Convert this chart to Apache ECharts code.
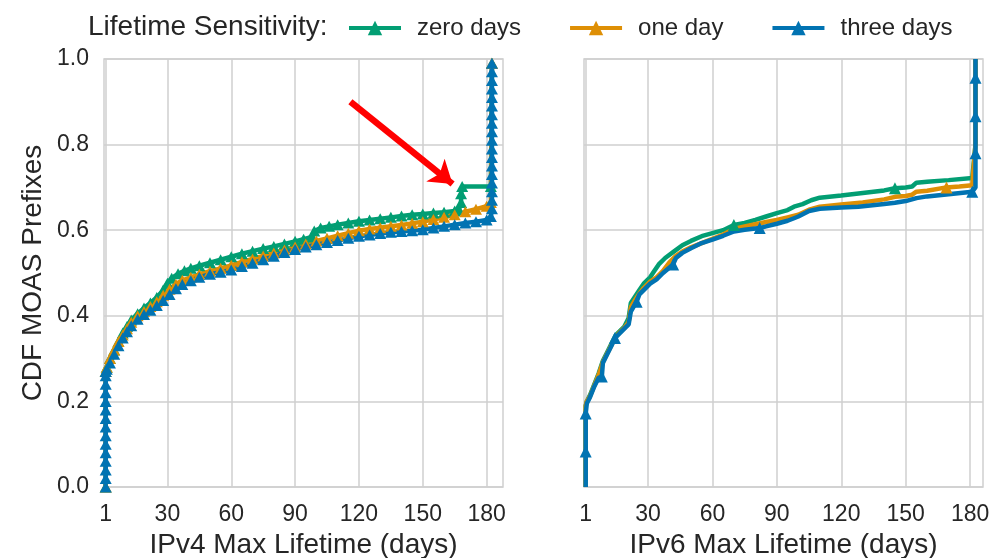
<!DOCTYPE html>
<html><head><meta charset="utf-8">
<script src="https://cdn.jsdelivr.net/npm/echarts@6/dist/echarts.min.js"></script>
<style>html,body{margin:0;padding:0;background:#fff}#c{width:1003px;height:558px}</style>
</head><body><div id="c"></div>
<script>
// ---------- data ----------
var seriesNames = ['zero days', 'one day', 'three days'];
var xTicks = [1, 30, 60, 90, 120, 150, 180];
var yTicks = [0, 0.2, 0.4, 0.6, 0.8, 1.0];
var xTitles = ['IPv4 Max Lifetime (days)', 'IPv6 Max Lifetime (days)'];
var yTitle = 'CDF MOAS Prefixes';
var legendTitle = 'Lifetime Sensitivity:';

// IPv4 (left)
var v4Zero = [[1,0],[1,0.27],
 [1.5,0.28],[3,0.3],[5,0.32],[7,0.34],[9,0.36],[11,0.375],[13,0.39],[16,0.405],[19,0.418],[22,0.43],[25,0.443],[28,0.46],[30,0.476],[32,0.488],[35,0.498],[38,0.505],[41,0.511],[45,0.517],[50,0.524],[55,0.531],[60,0.538],[65,0.545],[70,0.551],[75,0.557],[80,0.562],[85,0.568],[90,0.574],[94,0.579],[98,0.584],[99,0.598],[102,0.605],[106,0.609],[110,0.613],[115,0.617],[120,0.621],[125,0.624],[130,0.627],[135,0.63],[140,0.633],[145,0.636],[150,0.638],[155,0.64],[160,0.642],[165,0.645],[167,0.648],[168,0.665],[168,0.685],[168.5,0.702],[182,0.702],[182.5,0.99]];
var v4One = [[1,0],[1,0.27],
 [1.5,0.28],[3,0.3],[5,0.32],[7,0.34],[9,0.355],[11,0.37],[13,0.385],[16,0.4],[19,0.41],[22,0.422],[25,0.433],[28,0.448],[31,0.462],[34,0.474],[37,0.483],[41,0.49],[45,0.497],[50,0.504],[55,0.511],[60,0.518],[65,0.526],[70,0.533],[75,0.54],[80,0.547],[85,0.554],[90,0.561],[95,0.568],[100,0.575],[105,0.581],[110,0.587],[115,0.593],[120,0.599],[125,0.603],[130,0.606],[135,0.609],[140,0.612],[145,0.616],[150,0.62],[155,0.625],[160,0.63],[165,0.636],[170,0.643],[175,0.649],[180,0.656],[182,0.665],[182.5,0.99]];
var v4Three = [[1,0],[1,0.02],[1,0.04],[1,0.06],[1,0.08],[1,0.1],[1,0.12],[1,0.14],[1,0.16],[1,0.18],[1,0.2],[1,0.22],[1,0.24],[1,0.26],[1,0.27],
 [1.5,0.275],[3,0.29],[5,0.31],[7,0.33],[9,0.348],[11,0.363],[13,0.377],[16,0.392],[19,0.403],[22,0.413],[25,0.424],[28,0.436],[31,0.45],[34,0.463],[37,0.473],[41,0.482],[45,0.49],[50,0.497],[55,0.502],[60,0.507],[65,0.515],[70,0.523],[75,0.531],[80,0.539],[85,0.548],[90,0.555],[95,0.561],[100,0.566],[105,0.571],[110,0.576],[115,0.581],[120,0.586],[125,0.589],[130,0.592],[135,0.595],[140,0.597],[145,0.599],[150,0.601],[155,0.605],[160,0.609],[165,0.613],[170,0.617],[175,0.62],[180,0.624],[182,0.632],
 [182.5,0.65],[182.5,0.67],[182.5,0.69],[182.5,0.71],[182.5,0.73],[182.5,0.75],[182.5,0.77],[182.5,0.79],[182.5,0.81],[182.5,0.83],[182.5,0.85],[182.5,0.87],[182.5,0.89],[182.5,0.91],[182.5,0.93],[182.5,0.95],[182.5,0.97],[182.5,0.99]];

// IPv6 (right)
var v6Zero = [[1,0],[1,0.1],[1,0.19],[1.5,0.2],[3,0.215],[5,0.24],[7,0.265],[9,0.295],[11,0.315],[13,0.335],[15,0.355],[17,0.365],[19,0.375],[21,0.395],[22,0.43],[24,0.445],[26,0.46],[28,0.475],[31,0.49],[33,0.505],[35,0.52],[38,0.535],[42,0.55],[46,0.565],[50,0.575],[55,0.586],[60,0.593],[65,0.6],[70,0.612],[75,0.617],[80,0.624],[85,0.632],[90,0.64],[95,0.647],[98,0.655],[102,0.661],[106,0.67],[110,0.676],[120,0.681],[130,0.687],[140,0.693],[145,0.698],[150,0.7],[153,0.702],[155,0.711],[160,0.713],[170,0.717],[181,0.722],[182.5,0.8],[182.5,1]];
var v6One = [[1,0],[1,0.1],[1,0.19],[1.5,0.2],[3,0.212],[5,0.237],[7,0.262],[9,0.292],[11,0.312],[13,0.332],[15,0.352],[17,0.362],[19,0.372],[21,0.385],[22,0.42],[24,0.437],[26,0.452],[28,0.465],[31,0.48],[34,0.49],[37,0.505],[40,0.525],[43,0.54],[46,0.55],[50,0.56],[55,0.57],[60,0.58],[65,0.59],[70,0.603],[75,0.609],[80,0.614],[85,0.619],[90,0.624],[95,0.63],[100,0.636],[105,0.648],[110,0.655],[120,0.66],[130,0.665],[140,0.672],[145,0.678],[150,0.68],[153,0.683],[155,0.69],[160,0.692],[169,0.7],[175,0.702],[181,0.705],[182.5,0.8],[182.5,1]];
var v6Three = [[1,0],[1,0.083],[1,0.172],[1.5,0.195],[3,0.21],[5,0.235],[7,0.255],[8.5,0.258],[9,0.29],[11,0.31],[13,0.33],[14.6,0.348],[17,0.36],[19,0.37],[21,0.38],[22,0.41],[24.7,0.433],[26,0.45],[28,0.46],[31,0.475],[34,0.485],[37,0.5],[41.7,0.52],[43,0.535],[46,0.547],[50,0.558],[55,0.57],[60,0.578],[65,0.587],[70,0.597],[75,0.601],[82,0.605],[85,0.609],[90,0.615],[95,0.622],[98,0.628],[100,0.632],[105,0.645],[110,0.65],[120,0.653],[128,0.655],[140,0.661],[145,0.664],[150,0.668],[155,0.675],[160,0.679],[170,0.684],[181,0.69],[182.5,0.7],[182.5,0.78],[182.5,0.866],[182.5,0.956],[182.5,1]];
// points of the IPv6 curves that carry a marker
var v6ZeroMarks = [[70,0.612],[145,0.698]];
var v6OneMarks = [[169,0.7]];
var v6ThreeMarks = [[1,0.083],[1,0.172],[8.5,0.258],[14.6,0.348],[24.7,0.433],[41.7,0.52],[82,0.605],[181,0.69],[182.5,0.78],[182.5,0.866],[182.5,0.956]];

// annotation arrow (data coordinates of IPv4 panel)
var arrowStart = [116, 0.9];
var arrowEnd = [164, 0.708];

// ---------- chart ----------
var colors = ['#029e73', '#de8f05', '#0173b2'];
var FONT = 'Liberation Sans, Arial, sans-serif';
var TXT = '#262626';
var GRIDC = '#cfcfcf';

function build(pts, marks) {
  return pts.map(function (p) {
    var m = !marks || marks.some(function (q) { return q[0] === p[0] && q[1] === p[1]; });
    return { value: p, symbol: m ? 'triangle' : 'none' };
  });
}

function xAxisOf(gi, max) {
  return {
    type: 'value', gridIndex: gi, min: 0.2, max: max,
    name: xTitles[gi], nameLocation: 'middle', nameGap: 42,
    nameTextStyle: { fontFamily: FONT, fontSize: 28, color: TXT },
    axisLine: { show: false },
    axisTick: { show: false, customValues: xTicks },
    axisLabel: { customValues: xTicks, fontFamily: FONT, fontSize: 23, color: TXT, margin: 16 },
    splitLine: { show: true, lineStyle: { color: GRIDC, width: 1.5 } }
  };
}
function yAxisOf(gi) {
  return {
    type: 'value', gridIndex: gi, min: 0, max: 1, interval: 0.2,
    name: gi === 0 ? yTitle : '', nameLocation: 'middle', nameGap: 57,
    nameTextStyle: { fontFamily: FONT, fontSize: 28, color: TXT },
    axisLine: { show: false }, axisTick: { show: false },
    axisLabel: { show: gi === 0, fontFamily: FONT, fontSize: 23, color: TXT, margin: 15,
      padding: [10, 0, 0, 0],
      formatter: function (v) { return v.toFixed(1); } },
    splitLine: { show: true, lineStyle: { color: GRIDC, width: 1.5 } }
  };
}

var dataSets = [[v4Zero, v4One, v4Three], [v6Zero, v6One, v6Three]];
var markSets = [[null, null, null], [v6ZeroMarks, v6OneMarks, v6ThreeMarks]];
var series = [];
for (var g = 0; g < 2; g++) {
  for (var s = 0; s < 3; s++) {
    series.push({
      type: 'line', name: seriesNames[s], xAxisIndex: g, yAxisIndex: g,
      data: build(dataSets[g][s], markSets[g][s]),
      symbol: 'triangle', symbolSize: g === 0 ? [12, 11] : [12, 12], showAllSymbol: true,
      lineStyle: { color: colors[s], width: 4.5 },
      itemStyle: { color: colors[s] },
      animation: false, silent: true
    });
  }
}
series.push({
  type: 'lines', coordinateSystem: 'cartesian2d', xAxisIndex: 0, yAxisIndex: 0,
  data: [{ coords: [arrowStart, arrowEnd] }],
  symbol: ['none', 'arrow'], symbolSize: [0, 22],
  lineStyle: { color: '#ff0000', width: 6.5, opacity: 1 },
  z: 10, animation: false, silent: true
});

var chart = echarts.init(document.getElementById('c'));
chart.setOption({
  animation: false,
  backgroundColor: '#ffffff',
  title: { text: legendTitle, left: 83, top: 8,
    textStyle: { fontFamily: FONT, fontSize: 28, fontWeight: 'normal', color: TXT } },
  legend: {
    data: seriesNames, left: 342, top: 11, itemWidth: 52, itemHeight: 18, itemGap: 47,
    lineStyle: { width: 4 },
    textStyle: { fontFamily: FONT, fontSize: 24, color: TXT, padding: [0, 0, 0, 11] }
  },
  grid: [
    { left: 104, top: 59, width: 399, height: 428, show: true, borderColor: GRIDC, borderWidth: 1.5, backgroundColor: '#fff', outerBoundsMode: 'none', containLabel: false },
    { left: 584, top: 59, width: 399, height: 428, show: true, borderColor: GRIDC, borderWidth: 1.5, backgroundColor: '#fff', outerBoundsMode: 'none', containLabel: false }
  ],
  xAxis: [xAxisOf(0, 187.7), xAxisOf(1, 186)],
  yAxis: [yAxisOf(0), yAxisOf(1)],
  series: series
});
</script></body></html>
